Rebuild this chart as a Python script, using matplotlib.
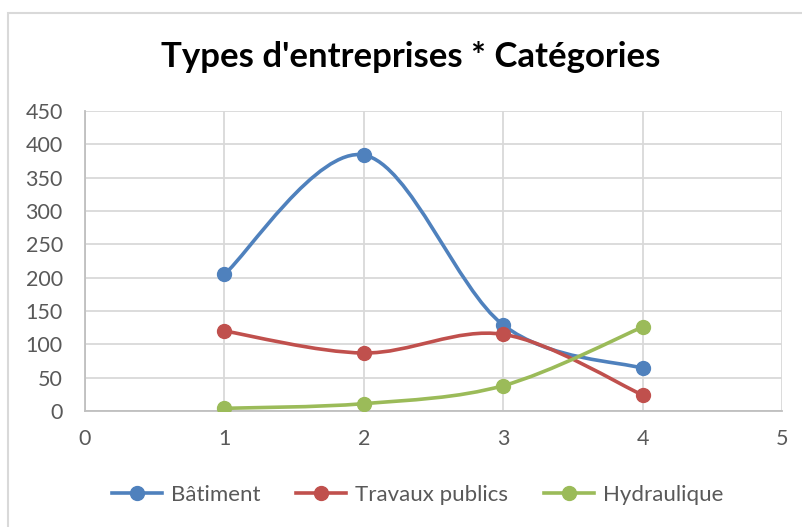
import matplotlib
matplotlib.use("Agg")
import matplotlib.pyplot as plt
from matplotlib.path import Path
from matplotlib.patches import PathPatch, Rectangle
from matplotlib.lines import Line2D

plt.rcParams['font.family'] = ['Lato', 'DejaVu Sans']

# donnees
x = [1, 2, 3, 4]
batiment = [205, 384, 129, 64]
travaux = [120, 87, 115, 24]
hydraulique = [4, 11, 38, 126]
noms = ["Bâtiment", "Travaux publics", "Hydraulique"]
couleurs = ["#4f81bd", "#c0504d", "#9bbb59"]
titre = "Types d'entreprises * Catégories"


def courbe_lissee(xs, ys):
    # lissage facon Excel : bezier cubique (Catmull-Rom)
    pts = list(zip(xs, ys))
    n = len(pts)
    verts = [pts[0]]
    codes = [Path.MOVETO]
    for i in range(n - 1):
        p0 = pts[max(i - 1, 0)]
        p1 = pts[i]
        p2 = pts[i + 1]
        p3 = pts[min(i + 2, n - 1)]
        c1 = (p1[0] + (p2[0] - p0[0]) / 6, p1[1] + (p2[1] - p0[1]) / 6)
        c2 = (p2[0] - (p3[0] - p1[0]) / 6, p2[1] - (p3[1] - p1[1]) / 6)
        verts += [c1, c2, p2]
        codes += [Path.CURVE4] * 3
    return Path(verts, codes)


fig = plt.figure(figsize=(8.03, 5.27), dpi=100)
fig.patches.append(Rectangle((8 / 803, -0.1), 1.2, 1 - 12.5 / 527 + 0.1,
                             transform=fig.transFigure, fill=False,
                             edgecolor="#d9d9d9", linewidth=1.5))

ax = fig.add_axes([85 / 803, 1 - 411 / 527, (782 - 85) / 803, 300 / 527])

for ys, nom, c in zip([batiment, travaux, hydraulique], noms, couleurs):
    ax.add_patch(PathPatch(courbe_lissee(x, ys), fill=False, edgecolor=c,
                           linewidth=2.6, capstyle="round", zorder=3))
    ax.plot(x, ys, "o", color=c, markersize=10, zorder=4)

ax.set_xlim(0, 5)
ax.set_ylim(0, 450)
ax.set_xticks(range(0, 6))
ax.set_yticks(range(0, 451, 50))
ax.grid(True, color="#d9d9d9", linewidth=1.3)
ax.set_axisbelow(True)
for s in ["top", "right"]:
    ax.spines[s].set_visible(False)
for s in ["left", "bottom"]:
    ax.spines[s].set_color("#bfbfbf")
    ax.spines[s].set_linewidth(1.3)
ax.tick_params(length=0, labelsize=15.5, labelcolor="#595959")
ax.tick_params(axis="x", pad=13)
ax.tick_params(axis="y", pad=16)

fig.text(0.511, 1 - 57 / 527, titre, ha="center", va="center",
         fontsize=25, fontweight="bold", color="black")

poignees = [Line2D([0], [0], color=c, linewidth=2.6, marker="o", markersize=10)
            for c in couleurs]
fig.legend(poignees, noms, loc="center", bbox_to_anchor=(0.52, 1 - 495 / 527),
           ncol=3, frameon=False, fontsize=16, labelcolor="#595959",
           handlelength=2.25, columnspacing=1.6, handletextpad=0.4)

fig.savefig("out.png", dpi=100)
